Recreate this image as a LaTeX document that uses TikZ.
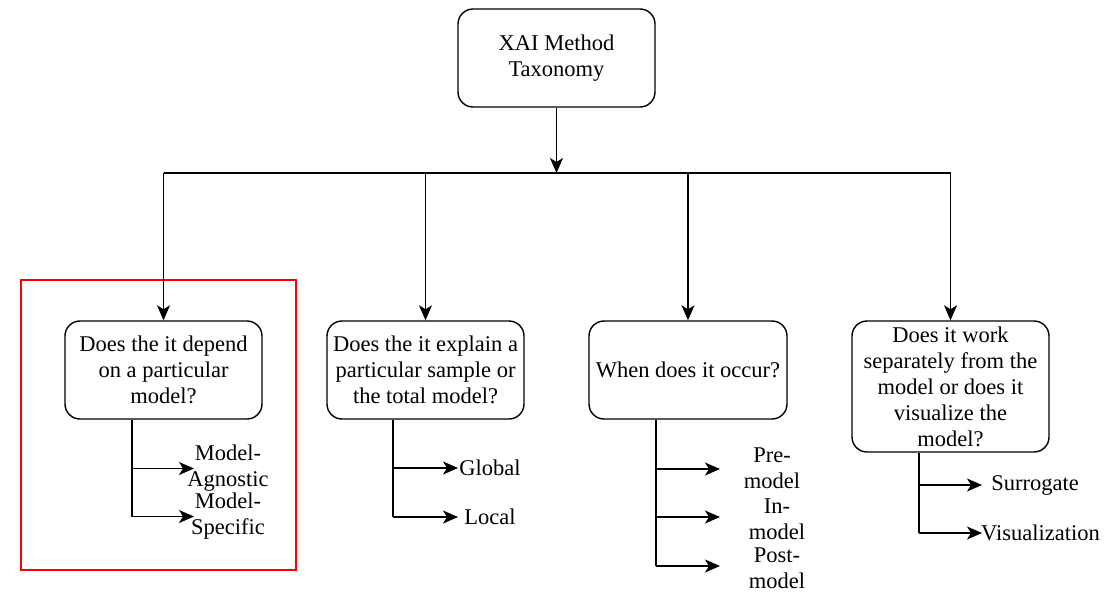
\documentclass[tikz,border=0pt]{standalone}
\usepackage{fontspec}
\newfontfamily\labelfont{Liberation Serif}
\usetikzlibrary{arrows.meta}
\begin{document}
\begin{tikzpicture}[x=1pt,y=-1pt,
  every node/.style={font=\labelfont\fontsize{22.5}{26}\selectfont, inner sep=0pt},
  qbox/.style={draw, line width=1.4pt, rounded corners=15pt, align=center,
    minimum width=197pt},
  leaf/.style={align=center},
  link/.style={line width=1.4pt, -{Stealth[length=15pt, width=13pt, inset=4pt]}},
  stem/.style={line width=1.4pt},
  focus/.style={draw=red, line width=2pt}
]
\useasboundingbox (0,0) rectangle (1119,592);

% root and question boxes
\node[qbox, minimum height=98pt] (root) at (556.5,58) {XAI Method\\Taxonomy};
\node[qbox, minimum height=98pt] (q1) at (163.5,370) {Does the it depend\\on a particular\\model?};
\node[qbox, minimum height=98pt] (q2) at (425.5,370) {Does the it explain a\\particular sample or\\the total model?};
\node[qbox, minimum height=98pt, minimum width=198pt] (q3) at (688,370) {When does it occur?};
\node[qbox, minimum height=131pt] (q4) at (950.5,386.5) {Does it work\\separately from the\\model or does it\\visualize the\\model?};

% highlight frame around the first question
\draw[focus] (21,280) rectangle (296,570);

% distribution bus
\coordinate (bus) at (556.5,173);
\coordinate (busL) at (q1.north |- bus);
\coordinate (busR) at (q4.north |- bus);
\draw[link] (root.south) -- (bus);
\draw[stem] (busL) -- (busR);
\draw[link] (busL) -- (q1.north);
\draw[link] (q2.north |- bus) -- (q2.north);
\draw[link] (q3.north |- bus) -- (q3.north);
\draw[link] (busR) -- (q4.north);

% leaf labels
\node[leaf] (agn) at (228,468.5) {Model-\\Agnostic};
\node[leaf] (spec) at (228,516.5) {Model-\\Specific};
\node[leaf] (glob) at (490,468) {Global};
\node[leaf] (loc) at (490,517) {Local};
\node[leaf] (pre) at (772,468.5) {Pre-\\model};
\node[leaf] (in) at (777,519) {In-\\model};
\node[leaf] (post) at (777,568) {Post-\\model};
\node[leaf] (sur) at (1035,485) {Surrogate};
\node[leaf] (vis) at (1040.5,533) {Visualization};

% branches of question 1
\coordinate (s1) at (132,0);
\coordinate (e1) at (194,0);
\draw[stem] (s1 |- q1.south) -- (s1 |- spec);
\draw[link] (s1 |- agn) -- (e1 |- agn);
\draw[link] (s1 |- spec) -- (e1 |- spec);

% branches of question 2
\coordinate (s2) at (393,0);
\coordinate (e2) at (458,0);
\draw[stem] (s2 |- q2.south) -- (s2 |- loc);
\draw[link] (s2 |- glob) -- (e2 |- glob);
\draw[link] (s2 |- loc) -- (e2 |- loc);

% branches of question 3
\coordinate (r3a) at (656,469);
\coordinate (r3b) at (656,517);
\coordinate (r3c) at (656,566);
\coordinate (t3a) at (720,469);
\coordinate (t3b) at (720,517);
\coordinate (t3c) at (720,566);
\draw[stem] (r3a |- q3.south) -- (r3c);
\draw[link] (r3a) -- (t3a);
\draw[link] (r3b) -- (t3b);
\draw[link] (r3c) -- (t3c);

% branches of question 4
\coordinate (s4) at (919,0);
\coordinate (e4) at (982,0);
\draw[stem] (s4 |- q4.south) -- (s4 |- vis);
\draw[link] (s4 |- sur) -- (e4 |- sur);
\draw[link] (s4 |- vis) -- (e4 |- vis);
\end{tikzpicture}
\end{document}
